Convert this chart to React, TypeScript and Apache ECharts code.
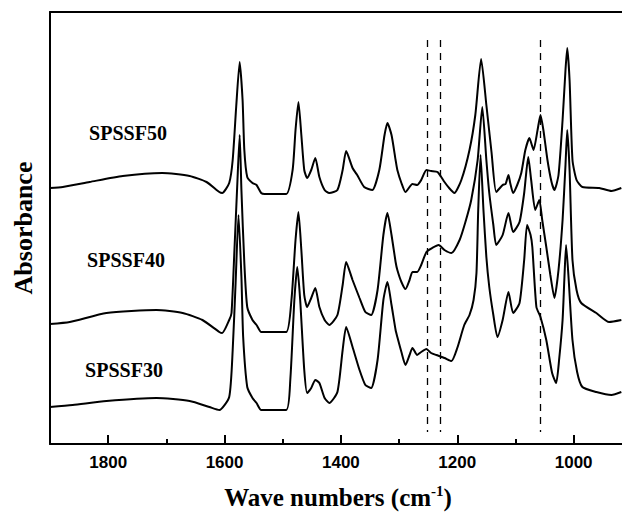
import React, { useEffect, useRef } from "react";
import * as echarts from "echarts";

// SPSSF50 (top trace)
const spssf50Wavenumbers = [1900,1878,1832,1775,1707,1660,1631,1609,1604,1592,1586,1580,1574,1569,1566,1561,1552,1545,1537,1531,1494,1483,1478,1473,1468,1463,1458,1451,1444,1437,1428,1420,1406,1397,1391,1380,1372,1360,1346,1334,1325,1320,1313,1306,1303,1296,1289,1277,1269,1262,1253,1245,1234,1222,1214,1205,1193,1179,1169,1159,1150,1141,1133,1122,1117,1112,1109,1104,1097,1090,1083,1076,1069,1062,1057,1052,1045,1038,1033,1026,1019,1014,1011,1007,1002,995,985,956,935,918];
const spssf50Absorbance = [256,257,262,268,271,268,262,252,251,261,284,337,382,344,294,267,261,259,251,250,250,274,314,342,309,274,266,274,286,267,254,251,254,274,293,276,269,257,254,274,309,321,309,284,274,261,252,260,259,264,274,273,272,262,256,251,264,294,329,385,339,291,252,259,260,269,261,251,259,271,294,306,294,314,329,314,284,262,254,269,324,374,396,364,284,264,257,256,253,256];

// SPSSF40 (middle trace)
const spssf40Wavenumbers = [1900,1866,1803,1717,1672,1638,1609,1604,1592,1588,1583,1578,1574,1571,1566,1561,1552,1545,1537,1528,1494,1485,1478,1473,1468,1463,1458,1451,1444,1437,1428,1420,1406,1397,1391,1380,1368,1358,1348,1337,1327,1320,1313,1306,1303,1296,1289,1282,1277,1269,1262,1253,1243,1232,1222,1210,1196,1186,1176,1165,1157,1150,1145,1138,1133,1122,1112,1104,1093,1085,1078,1073,1066,1059,1054,1047,1040,1033,1026,1019,1014,1011,1007,1002,995,987,961,939,918];
const spssf40Absorbance = [120,122,131,134,131,124,112,111,124,131,194,261,309,254,181,137,124,119,112,112,112,144,204,232,194,149,137,146,156,137,124,119,129,159,182,164,146,132,129,154,209,231,209,182,174,162,155,164,172,172,179,192,196,199,194,191,204,222,244,284,337,284,251,219,199,209,231,212,222,251,287,264,234,244,224,197,169,146,174,224,279,314,274,184,154,141,131,122,124];

// SPSSF30 (bottom trace)
const spssf30Wavenumbers = [1900,1861,1803,1717,1660,1626,1609,1592,1586,1581,1576,1571,1568,1561,1552,1545,1537,1494,1487,1480,1475,1470,1463,1458,1451,1444,1437,1428,1420,1406,1397,1391,1380,1368,1358,1348,1337,1327,1320,1313,1306,1303,1296,1289,1282,1277,1269,1262,1253,1245,1236,1222,1210,1200,1188,1179,1172,1167,1164,1160,1155,1150,1145,1138,1131,1122,1112,1104,1093,1085,1080,1074,1071,1064,1057,1047,1037,1030,1025,1019,1016,1013,1009,1002,994,985,961,935,918];
const spssf30Absorbance = [37,39,43,46,43,37,34,47,94,161,229,167,107,57,46,41,34,34,64,144,177,144,74,51,56,64,61,46,41,52,94,117,97,74,59,56,84,144,162,139,114,107,92,79,89,96,89,92,95,91,89,86,83,96,119,129,144,171,234,289,234,187,157,129,107,124,152,131,141,184,219,209,197,137,127,104,71,61,84,124,164,199,169,104,72,57,52,49,52];

// dashed reference lines
const markerWavenumbers = [1251, 1229, 1057];
const markerRange = [12, 404];

// x-axis ticks (inside ticks; lengths in y-axis units)
const majorTicks = [1000, 1200, 1400, 1600, 1800];
const minorTicks = [900, 1100, 1300, 1500, 1700];
const majorTickLength = 9;
const minorTickLength = 5;

const seriesNames = ["SPSSF50", "SPSSF40", "SPSSF30"];

const pairs = (w: number[], v: number[]) => w.map((x, i) => [x, v[i]]);

export default function App() {
  const ref = useRef<HTMLDivElement>(null);
  useEffect(() => {
    if (!ref.current) return;
    const chart = echarts.init(ref.current, null, { renderer: "svg" });
    const serif = '"Liberation Serif", "Times New Roman", serif';
    const sans = '"Liberation Sans", Arial, sans-serif';
    const lineStyle = { color: "#000", width: 2 };
    const makeSeries = (name: string, w: number[], v: number[], extra: any = {}) => ({
      name,
      type: "line",
      data: pairs(w, v),
      showSymbol: false,
      symbol: "none",
      smooth: 0.2,
      lineStyle,
      xAxisIndex: 0,
      yAxisIndex: 0,
      ...extra,
    });
    const tickPair = (v: number, len: number) => [
      { coord: [v, 0], lineStyle: { color: "#000", width: 2, type: "solid" } },
      { coord: [v, len] },
    ];
    const textEls: any[] = [
      {
        type: "text",
        x: 128,
        y: 133,
        style: { text: seriesNames[0], fill: "#000", fontFamily: serif, fontWeight: "bold", fontSize: 20, align: "center", verticalAlign: "middle" },
      },
      {
        type: "text",
        x: 126,
        y: 260,
        style: { text: seriesNames[1], fill: "#000", fontFamily: serif, fontWeight: "bold", fontSize: 20, align: "center", verticalAlign: "middle" },
      },
      {
        type: "text",
        x: 124,
        y: 370,
        style: { text: seriesNames[2], fill: "#000", fontFamily: serif, fontWeight: "bold", fontSize: 20, align: "center", verticalAlign: "middle" },
      },
      {
        type: "text",
        x: 338,
        y: 497,
        style: {
          text: "{a|Wave numbers (cm}{s|-1}{a|)}",
          align: "center",
          verticalAlign: "middle",
          fill: "#000",
          rich: {
            a: { fontFamily: serif, fontWeight: "bold", fontSize: 25, lineHeight: 28, fill: "#000" },
            s: { fontFamily: serif, fontWeight: "bold", fontSize: 15, lineHeight: 15, verticalAlign: "top", fill: "#000" },
          },
        },
      },
    ];
    chart.setOption({
      animation: false,
      backgroundColor: "#fff",
      grid: { left: 50, top: 12, right: -68, bottom: 69, outerBoundsMode: "none", containLabel: false },
      xAxis: [
        {
          type: "value",
          min: 800,
          max: 1900,
          interval: 200,
          inverse: true,
          position: "bottom",
          axisLine: { show: true, onZero: false, lineStyle: { color: "#000", width: 2 } },
          axisTick: { show: false },
          axisLabel: {
            show: true,
            margin: 10,
            showMinLabel: false,
            showMaxLabel: false,
            color: "#000",
            fontFamily: sans,
            fontWeight: "bold",
            fontSize: 17,
            formatter: (v: number) => String(v),
          },
          splitLine: { show: false },
        },
        {
          type: "value",
          min: 800,
          max: 1900,
          inverse: true,
          position: "top",
          axisLine: { show: true, onZero: false, lineStyle: { color: "#000", width: 2 } },
          axisTick: { show: false },
          axisLabel: { show: false },
          splitLine: { show: false },
        },
      ],
      yAxis: {
        type: "value",
        min: 0,
        max: 432,
        position: "left",
        name: "Absorbance",
        nameLocation: "middle",
        nameRotate: 90,
        nameGap: 14,
        nameTextStyle: { color: "#000", fontFamily: serif, fontWeight: "bold", fontSize: 26 },
        axisLine: { show: true, onZero: false, lineStyle: { color: "#000", width: 2 } },
        axisTick: { show: false },
        axisLabel: { show: false },
        splitLine: { show: false },
      },
      series: [
        makeSeries(seriesNames[0], spssf50Wavenumbers, spssf50Absorbance, {
          markLine: {
            silent: true,
            symbol: ["none", "none"],
            label: { show: false },
            lineStyle: { color: "#000", width: 2, type: "solid" },
            data: [
              ...majorTicks.map((v) => tickPair(v, majorTickLength)),
              ...minorTicks.map((v) => tickPair(v, minorTickLength)),
            ],
          },
        }),
        makeSeries(seriesNames[1], spssf40Wavenumbers, spssf40Absorbance),
        makeSeries(seriesNames[2], spssf30Wavenumbers, spssf30Absorbance, {
          markLine: {
            silent: true,
            symbol: ["none", "none"],
            label: { show: false },
            lineStyle: { color: "#000", width: 1.3, type: [7, 6] },
            data: markerWavenumbers.map((w) => [
              { coord: [w, markerRange[1]] },
              { coord: [w, markerRange[0]] },
            ]),
          },
        }),
      ],
      graphic: textEls,
    });
    return () => chart.dispose();
  }, []);
  return (
    <div
      ref={ref}
      style={{ position: "fixed", left: 0, top: 0, width: 622, height: 513, background: "#fff" }}
    />
  );
}
